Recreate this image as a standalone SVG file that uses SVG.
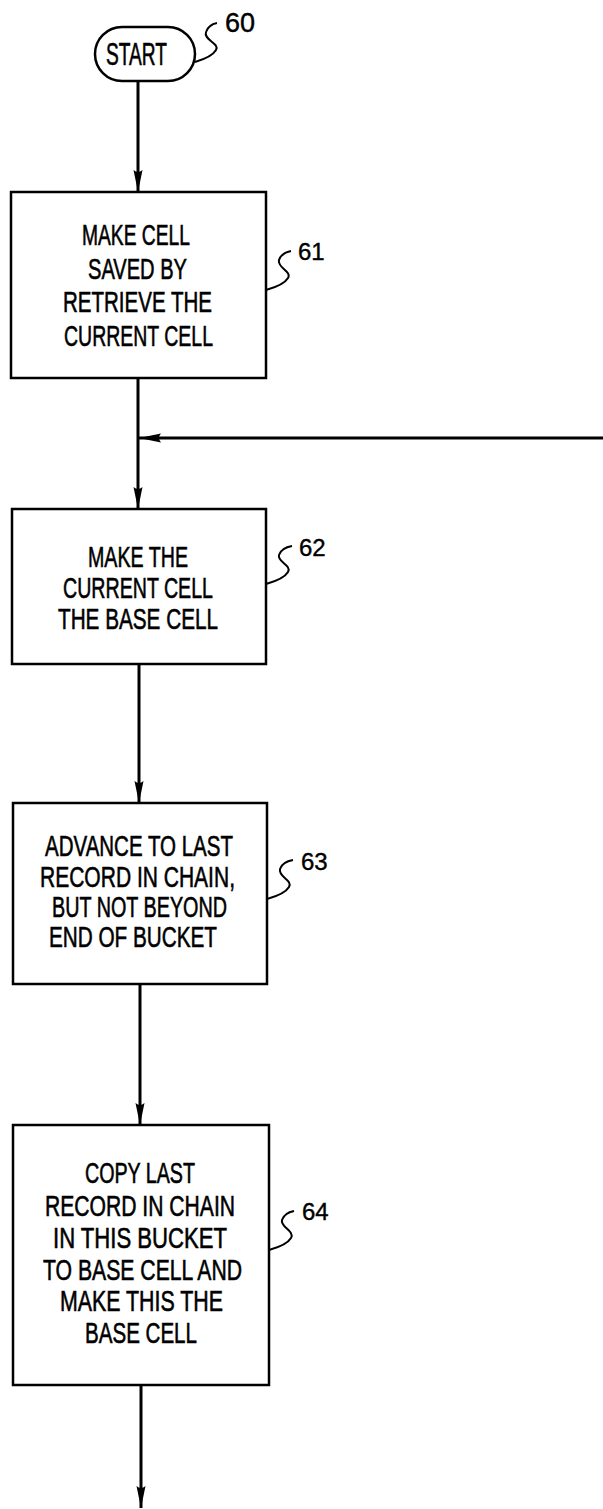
<svg xmlns="http://www.w3.org/2000/svg" width="603" height="1509" viewBox="0 0 603 1509">
<style>
.box{fill:#fff;stroke:#000;stroke-width:2.5}
.ln{fill:none;stroke:#000;stroke-width:3}
.ld{fill:none;stroke:#000;stroke-width:2}
.t{font-family:"Liberation Sans",Arial,sans-serif;font-size:22px;fill:#000;stroke:#000;stroke-width:0.45}
.lb{font-family:"Liberation Sans",Arial,sans-serif;font-size:24px;fill:#000;stroke:#000;stroke-width:0.4}
</style>
<defs>
<marker id="ah" viewBox="0 0 22 10" refX="22" refY="5" markerWidth="22" markerHeight="10" markerUnits="userSpaceOnUse" orient="auto">
<path d="M0,0.5 L22,5 L0,9.5 Q4,5 0,0.5 z" fill="#000"/>
</marker>
</defs>
<rect width="603" height="1509" fill="#fff"/>
<g id="connectors">
<path class="ln" d="M138,81 L138,192" marker-end="url(#ah)"/>
<path class="ln" d="M138,378 L138,509" marker-end="url(#ah)"/>
<path class="ln" d="M603,438 L139,438" marker-end="url(#ah)"/>
<path class="ln" d="M139,664 L139,803" marker-end="url(#ah)"/>
<path class="ln" d="M140,984 L140,1125" marker-end="url(#ah)"/>
<path class="ln" d="M141,1385 L141,1508" marker-end="url(#ah)"/>
</g>
<g id="n60">
<rect class="box" x="95" y="27" width="100" height="54" rx="27" ry="27"/>
<text class="t" x="106" y="65" transform="matrix(1,0,0,1.3,0,-19.5)" textLength="61" lengthAdjust="spacingAndGlyphs" style="font-size:24px">START</text>
<path class="ld" d="M195,62 Q212,57 216,50 C220,43 203,40 206,32 C208,26 212,24 217,23"/>
<text class="lb" x="225" y="32" style="font-size:27px">60</text>
</g>
<g id="n61">
<rect class="box" x="11" y="192" width="255" height="186"/>
<text class="t" x="82" y="245" transform="matrix(1,0,0,1.3,0,-73.5)" textLength="108" lengthAdjust="spacingAndGlyphs">MAKE CELL</text>
<text class="t" x="88" y="279" transform="matrix(1,0,0,1.3,0,-83.7)" textLength="99" lengthAdjust="spacingAndGlyphs">SAVED BY</text>
<text class="t" x="63" y="312" transform="matrix(1,0,0,1.3,0,-93.6)" textLength="149" lengthAdjust="spacingAndGlyphs">RETRIEVE THE</text>
<text class="t" x="64" y="346" transform="matrix(1,0,0,1.3,0,-103.8)" textLength="149" lengthAdjust="spacingAndGlyphs">CURRENT CELL</text>
<path class="ld" d="M266,290 Q284,285 288,278 C292,271 277,268 279,260 C281,254 286,252 291,251"/>
<text class="lb" x="298" y="260">61</text>
</g>
<g id="n62">
<rect class="box" x="12" y="509" width="254" height="155"/>
<text class="t" x="88" y="567" transform="matrix(1,0,0,1.3,0,-170.1)" textLength="100" lengthAdjust="spacingAndGlyphs">MAKE THE</text>
<text class="t" x="63" y="598" transform="matrix(1,0,0,1.3,0,-179.4)" textLength="150" lengthAdjust="spacingAndGlyphs">CURRENT CELL</text>
<text class="t" x="58" y="629" transform="matrix(1,0,0,1.3,0,-188.7)" textLength="160" lengthAdjust="spacingAndGlyphs">THE BASE CELL</text>
<path class="ld" d="M266,584 Q284,579 288,572 C292,565 277,562 279,555 C281,549 286,547 292,546"/>
<text class="lb" x="299" y="556">62</text>
</g>
<g id="n63">
<rect class="box" x="13" y="803" width="254" height="181"/>
<text class="t" x="45" y="856" transform="matrix(1,0,0,1.3,0,-256.8)" textLength="188" lengthAdjust="spacingAndGlyphs">ADVANCE TO LAST</text>
<text class="t" x="40" y="887" transform="matrix(1,0,0,1.3,0,-266.1)" textLength="195" lengthAdjust="spacingAndGlyphs">RECORD IN CHAIN,</text>
<text class="t" x="52" y="917" transform="matrix(1,0,0,1.3,0,-275.1)" textLength="175" lengthAdjust="spacingAndGlyphs">BUT NOT BEYOND</text>
<text class="t" x="49" y="947" transform="matrix(1,0,0,1.3,0,-284.1)" textLength="168" lengthAdjust="spacingAndGlyphs">END OF BUCKET</text>
<path class="ld" d="M267,899 Q285,894 289,887 C293,880 278,877 280,869 C282,863 287,861 293,860"/>
<text class="lb" x="301" y="870">63</text>
</g>
<g id="n64">
<rect class="box" x="13" y="1125" width="256" height="260"/>
<text class="t" x="85" y="1183" transform="matrix(1,0,0,1.3,0,-354.9)" textLength="110" lengthAdjust="spacingAndGlyphs">COPY LAST</text>
<text class="t" x="45" y="1216" transform="matrix(1,0,0,1.3,0,-364.8)" textLength="190" lengthAdjust="spacingAndGlyphs">RECORD IN CHAIN</text>
<text class="t" x="53" y="1248" transform="matrix(1,0,0,1.3,0,-374.4)" textLength="174" lengthAdjust="spacingAndGlyphs">IN THIS BUCKET</text>
<text class="t" x="43" y="1280" transform="matrix(1,0,0,1.3,0,-384)" textLength="199" lengthAdjust="spacingAndGlyphs">TO BASE CELL AND</text>
<text class="t" x="60" y="1311" transform="matrix(1,0,0,1.3,0,-393.3)" textLength="163" lengthAdjust="spacingAndGlyphs">MAKE THIS THE</text>
<text class="t" x="85" y="1343" transform="matrix(1,0,0,1.3,0,-402.9)" textLength="112" lengthAdjust="spacingAndGlyphs">BASE CELL</text>
<path class="ld" d="M269,1250 Q287,1245 291,1238 C295,1231 280,1227 282,1220 C284,1214 289,1212 294,1211"/>
<text class="lb" x="302" y="1220">64</text>
</g>
</svg>
